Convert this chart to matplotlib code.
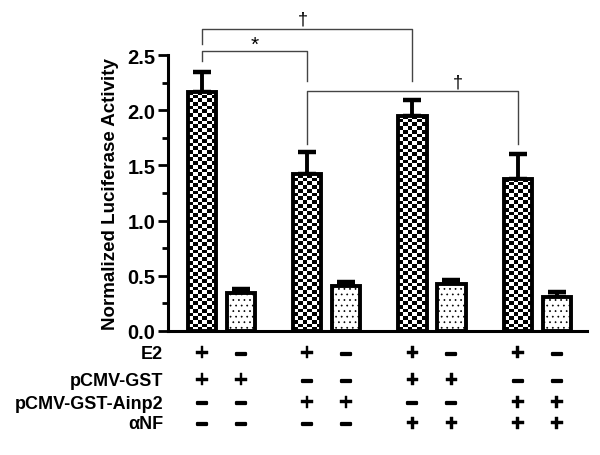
import numpy as np
import matplotlib
matplotlib.use("Agg")
import matplotlib.pyplot as plt
import matplotlib.patheffects as pe
from matplotlib.ticker import MultipleLocator
from matplotlib.transforms import blended_transform_factory

plt.rcParams['font.family'] = ['Liberation Sans', 'DejaVu Sans']
plt.rcParams['hatch.linewidth'] = 0.5

# ---- data ----
positions = [0, 1, 2.7, 3.7, 5.4, 6.4, 8.1, 9.1]
values = [2.17, 0.34, 1.42, 0.41, 1.95, 0.43, 1.38, 0.31]
errors = [0.18, 0.04, 0.20, 0.03, 0.14, 0.03, 0.22, 0.04]
patterns = ['check', 'dot', 'check', 'dot', 'check', 'dot', 'check', 'dot']
row_labels = ['E2', 'pCMV-GST', 'pCMV-GST-Ainp2', 'αNF']
row_signs = [
    ['+', '-', '+', '-', '+', '-', '+', '-'],
    ['+', '+', '-', '-', '+', '+', '-', '-'],
    ['-', '-', '+', '+', '-', '-', '+', '+'],
    ['-', '-', '-', '-', '+', '+', '+', '+'],
]
# brackets: (bar left, bar right, top y, left leg end, right leg end, label, label x, label y)
brackets = [
    (0, 2, 2.536, 2.446, 2.264, '*', 1.35, 2.60),
    (0, 4, 2.735, 2.60, 2.264, '†', 2.6, 2.83),
    (2, 6, 2.174, 1.694, 1.694, '†', 6.55, 2.26),
]

fig = plt.figure(figsize=(6, 4.56), dpi=100)
ax = fig.add_axes([0.28, 0.272, 0.698, 0.605])

bw = 0.72
faces = ['none' if p == 'check' else 'white' for p in patterns]
bars = ax.bar(positions, values, width=bw, color=faces, edgecolor='black',
              linewidth=2.8, zorder=3)
for b, p in zip(bars, patterns):
    if p == 'check':
        x0 = b.get_x()
        h = b.get_height()
        ncol = 6
        nrow = int(round(h / 0.0335))
        img = (np.indices((nrow, ncol)).sum(axis=0) % 2).astype(float)
        im = ax.imshow(img, cmap='gray', interpolation='nearest',
                       extent=(x0, x0 + bw, 0, h), aspect='auto', zorder=2.5,
                       origin='lower')
        im.set_clip_path(b)
    else:
        b.set_hatch('...')

ax.errorbar(positions, values, yerr=[np.zeros(len(errors)), errors], fmt='none',
            ecolor='black', elinewidth=2.8, capsize=6.5, capthick=3.2, zorder=2)

ax.set_xlim(-0.87, 9.87)
ax.set_ylim(0, 2.5)
ax.yaxis.set_minor_locator(MultipleLocator(0.25))
ax.set_yticks([0, 0.5, 1.0, 1.5, 2.0, 2.5])
ax.set_yticklabels(['0.0', '0.5', '1.0', '1.5', '2.0', '2.5'], fontsize=14.5, fontweight='bold')
ax.tick_params(axis='y', which='major', length=7, width=2, pad=2)
ax.tick_params(axis='y', which='minor', length=4.5, width=2)
ax.set_xticks([])
for s in ['top', 'right']:
    ax.spines[s].set_visible(False)
for s in ['left', 'bottom']:
    ax.spines[s].set_linewidth(2.2)
ax.set_ylabel('Normalized Luciferase Activity', fontsize=13.5, fontweight='bold', labelpad=6)

# brackets
for i, j, top, l_end, r_end, lab, lx, ly in brackets:
    xl, xr = positions[i], positions[j]
    ax.plot([xl, xl, xr, xr], [l_end, top, top, r_end], color='#444444', lw=1.0,
            clip_on=False, zorder=4)
    ax.text(lx, ly, lab, ha='center', va='center', fontsize=15 if lab == '*' else 13,
            clip_on=False)

# table of conditions
trans = blended_transform_factory(ax.transData, fig.transFigure)
row_y = [0.222, 0.163, 0.114, 0.068]
for lab, signs, y in zip(row_labels, row_signs, row_y):
    fig.text(0.272, y, lab, ha='right', va='center', fontsize=13, fontweight='bold')
    for x, s in zip(positions, signs):
        if s == '+':
            ax.text(x, y, '+', transform=trans, ha='center', va='center', fontsize=17,
                    fontweight='bold', clip_on=False,
                    path_effects=[pe.withStroke(linewidth=0.3, foreground='black')])
        else:
            ax.text(x, y, '\u2013', transform=trans, ha='center', va='center', fontsize=14.5,
                    fontweight='bold', clip_on=False,
                    path_effects=[pe.withStroke(linewidth=1.6, foreground='black')])

fig.savefig('out.png', dpi=100)
